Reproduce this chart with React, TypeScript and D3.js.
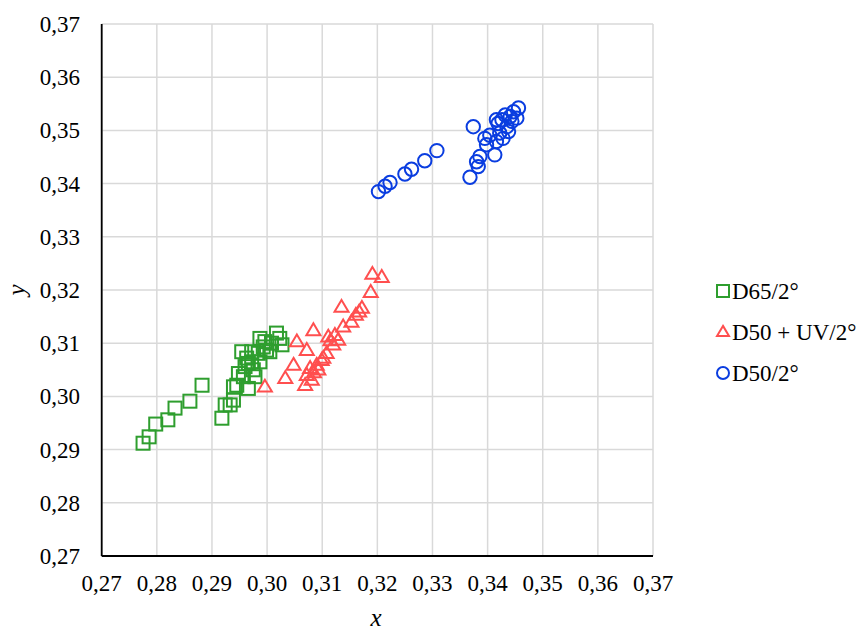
import React from "react";
import * as d3 from "d3";

const xTicks = [0.27, 0.28, 0.29, 0.3, 0.31, 0.32, 0.33, 0.34, 0.35, 0.36, 0.37];
const yTicks = [0.27, 0.28, 0.29, 0.3, 0.31, 0.32, 0.33, 0.34, 0.35, 0.36, 0.37];

const d65: [number, number][] = [
  [0.2775, 0.2912], [0.2786, 0.2924], [0.2798, 0.2948], [0.282, 0.2956], [0.2833, 0.2978],
  [0.286, 0.2991], [0.2882, 0.3021], [0.2918, 0.2959], [0.2924, 0.2984], [0.2933, 0.2984],
  [0.2939, 0.2993], [0.2939, 0.3018], [0.2945, 0.3021], [0.2948, 0.3043], [0.2966, 0.3015],
  [0.2957, 0.3037], [0.296, 0.3056], [0.2966, 0.3062], [0.2954, 0.3084], [0.2963, 0.3072],
  [0.2972, 0.3065], [0.2978, 0.3037], [0.2975, 0.305], [0.2987, 0.3065], [0.2984, 0.3081],
  [0.2987, 0.3109], [0.2996, 0.3103], [0.2999, 0.3087], [0.3005, 0.3084], [0.3008, 0.31],
  [0.3017, 0.3119], [0.3023, 0.3109], [0.3027, 0.3097], [0.2993, 0.3093], [0.2972, 0.3084],
];

const d50uv: [number, number][] = [
  [0.3191, 0.323], [0.3208, 0.3224], [0.3188, 0.3196], [0.3135, 0.3168], [0.3172, 0.3166],
  [0.3167, 0.3159], [0.3161, 0.3153], [0.3153, 0.314], [0.3138, 0.3131], [0.3084, 0.3124],
  [0.3054, 0.3103], [0.3111, 0.3112], [0.3123, 0.3115], [0.3129, 0.3106], [0.312, 0.3097],
  [0.3072, 0.3087], [0.3108, 0.3081], [0.3099, 0.3068], [0.3048, 0.3059], [0.309, 0.3059],
  [0.3078, 0.3053], [0.3072, 0.304], [0.3069, 0.3021], [0.3081, 0.3031], [0.3093, 0.305],
  [0.3033, 0.3034], [0.2996, 0.3018], [0.3115, 0.3105], [0.3085, 0.3045], [0.3102, 0.3072],
];

const d50: [number, number][] = [
  [0.3202, 0.3385], [0.3214, 0.3395], [0.3223, 0.3402], [0.325, 0.3418], [0.3262, 0.3427],
  [0.3286, 0.3443], [0.3308, 0.3462], [0.3368, 0.3412], [0.3374, 0.3507], [0.338, 0.3441],
  [0.3383, 0.3432], [0.3386, 0.3451], [0.3398, 0.3473], [0.3395, 0.3485], [0.3404, 0.3491],
  [0.3413, 0.3454], [0.3416, 0.3479], [0.3422, 0.3495], [0.3428, 0.3485], [0.3419, 0.3513],
  [0.3426, 0.352], [0.3435, 0.3507], [0.3441, 0.3526], [0.3447, 0.3535], [0.3456, 0.3542],
  [0.3453, 0.3523], [0.3438, 0.3498], [0.3432, 0.3529], [0.3416, 0.352], [0.3444, 0.3517],
];

const labels = ["D65/2°", "D50 + UV/2°", "D50/2°"];
const GREEN = "#2e9e2e";
const RED = "#ff4f4f";
const BLUE = "#0a3de0";
const FONT = "Liberation Serif, Times New Roman, serif";

const fmt = (v: number) => v.toFixed(2).replace(".", ",");

function Square({ cx, cy, s = 13, c }: { cx: number; cy: number; s?: number; c: string }) {
  return <rect x={cx - s / 2} y={cy - s / 2} width={s} height={s} fill="none" stroke={c} strokeWidth={2} />;
}
function Tri({ cx, cy, s = 14, c }: { cx: number; cy: number; s?: number; c: string }) {
  const h = s * 0.85;
  const p = `M${cx},${cy - h * 0.6} L${cx + s / 2},${cy + h * 0.4} L${cx - s / 2},${cy + h * 0.4} Z`;
  return <path d={p} fill="none" stroke={c} strokeWidth={2} strokeLinejoin="miter" />;
}
function Circ({ cx, cy, r = 6.7, c }: { cx: number; cy: number; r?: number; c: string }) {
  return <circle cx={cx} cy={cy} r={r} fill="none" stroke={c} strokeWidth={2} />;
}

export default function App() {
  const x = d3.scaleLinear().domain([0.27, 0.37]).range([101.7, 653]);
  const y = d3.scaleLinear().domain([0.27, 0.37]).range([556, 24]);
  return (
    <svg width={865} height={633} style={{ position: "absolute", left: 0, top: 0, fontFamily: FONT }}>
      <rect width={865} height={633} fill="#fff" />
      {xTicks.map((t) => (
        <line key={"gx" + t} x1={x(t)} x2={x(t)} y1={y(0.27)} y2={y(0.37)} stroke="#d9d9d9" strokeWidth={1.5} />
      ))}
      {yTicks.map((t) => (
        <line key={"gy" + t} x1={x(0.27)} x2={x(0.37)} y1={y(t)} y2={y(t)} stroke="#d9d9d9" strokeWidth={1.5} />
      ))}
      <line x1={x(0.27)} x2={x(0.27)} y1={y(0.27)} y2={y(0.37)} stroke="#000" strokeWidth={1.8} />
      <line x1={x(0.27)} x2={x(0.37)} y1={y(0.27)} y2={y(0.27)} stroke="#000" strokeWidth={1.8} />
      {xTicks.map((t) => (
        <text key={"tx" + t} x={x(t)} y={591} textAnchor="middle" fontSize={23} fill="#000">
          {fmt(t)}
        </text>
      ))}
      {yTicks.map((t) => (
        <text key={"ty" + t} x={80} y={y(t) + 8} textAnchor="end" fontSize={23} fill="#000">
          {fmt(t)}
        </text>
      ))}
      <text x={376} y={626} textAnchor="middle" fontSize={25} fontStyle="italic">x</text>
      <text transform={`translate(25,290) rotate(-90)`} textAnchor="middle" fontSize={25} fontStyle="italic">y</text>
      {d65.map((d, i) => (
        <Square key={"g" + i} cx={x(d[0])} cy={y(d[1])} c={GREEN} />
      ))}
      {d50uv.map((d, i) => (
        <Tri key={"r" + i} cx={x(d[0])} cy={y(d[1])} c={RED} />
      ))}
      {d50.map((d, i) => (
        <Circ key={"b" + i} cx={x(d[0])} cy={y(d[1])} c={BLUE} />
      ))}
      <Square cx={723} cy={291} s={12} c={GREEN} />
      <Tri cx={723} cy={332} s={12} c={RED} />
      <Circ cx={723} cy={373} r={6} c={BLUE} />
      {labels.map((l, i) => (
        <text key={l} x={732} y={299 + i * 41} fontSize={23} fill="#000">{l}</text>
      ))}
    </svg>
  );
}
